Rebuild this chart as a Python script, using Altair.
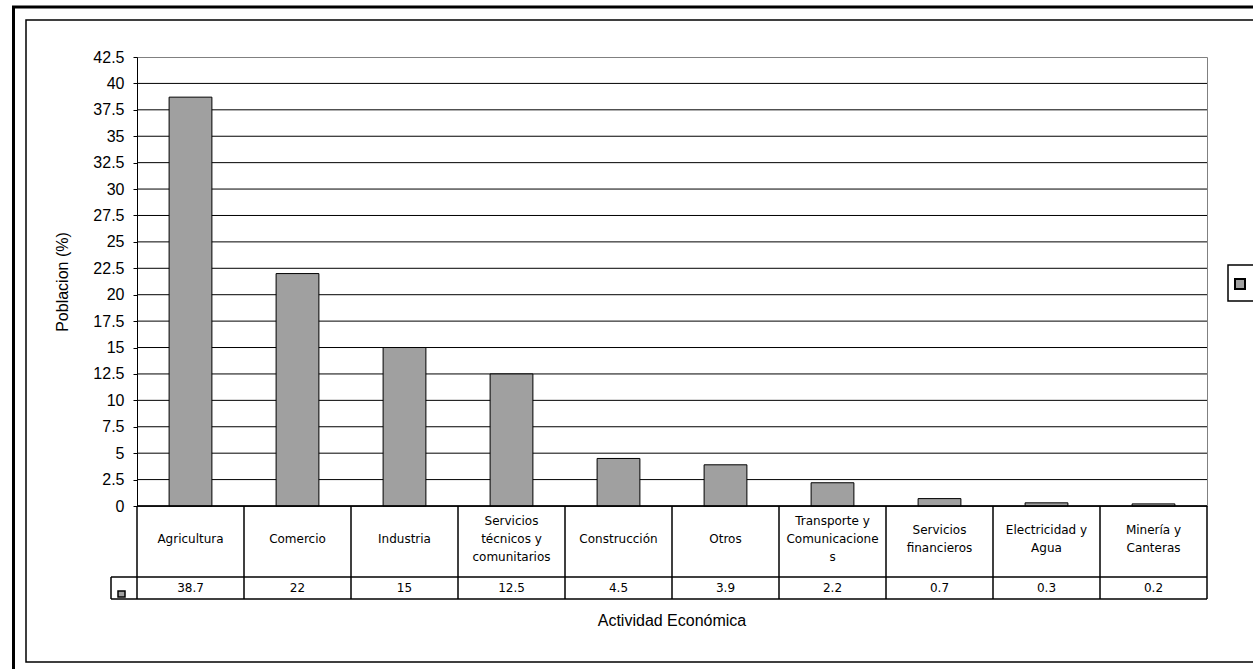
import altair as alt
import pandas as pd

# ---- data ----
categories = ["Agricultura", "Comercio", "Industria", "Servicios técnicos y comunitarios",
              "Construcción", "Otros", "Transporte y Comunicaciones", "Servicios financieros",
              "Electricidad y Agua", "Minería y Canteras"]
values = [38.7, 22, 15, 12.5, 4.5, 3.9, 2.2, 0.7, 0.3, 0.2]
table_labels = ["Agricultura", "Comercio", "Industria", "Servicios\ntécnicos y\ncomunitarios",
                "Construcción", "Otros", "Transporte y\nComunicacione\ns", "Servicios\nfinancieros",
                "Electricidad y\nAgua", "Minería y\nCanteras"]
value_labels = ["38.7", "22", "15", "12.5", "4.5", "3.9", "2.2", "0.7", "0.3", "0.2"]
y_ticks = [0, 2.5, 5, 7.5, 10, 12.5, 15, 17.5, 20, 22.5, 25, 27.5, 30, 32.5, 35, 37.5, 40, 42.5]

# ---- layout constants (pixels) ----
W, H = 1070, 449
ROW1, ROW2 = 520, 542
KEY_X = -26
LINE_H = 18
FONT = "Liberation Sans"
TFONT = "DejaVu Sans"
BAR = "#a0a0a0"

df = pd.DataFrame({"cat": categories, "val": values, "lab": table_labels, "vlab": value_labels})
# vertical position of each multi-line label so the block is centred in its cell
df["ly"] = [(H + ROW1) / 2 - 3 - (lab.count("\n")) * LINE_H / 2 for lab in table_labels]
ticks_df = pd.DataFrame({"t": [t for t in y_ticks if t < max(y_ticks)]})
one = pd.DataFrame({"a": [0]})

yscale = alt.Scale(domain=[0, 42.5], nice=False, zero=True)
xenc = alt.X("cat:N", sort=categories, scale=alt.Scale(paddingInner=0, paddingOuter=0), axis=None)
yaxis = alt.Axis(values=y_ticks, format=".1~f", grid=False, tickSize=4, tickColor="black",
                 domainColor="black", labelFont=FONT, labelFontSize=16, labelColor="black",
                 labelPadding=9, title="Poblacion (%)", titleFont=FONT, titleFontSize=16,
                 titleFontWeight="normal", titleColor="black", titleX=-75, titleY=H / 2,
                 titleBaseline="middle")

grid = alt.Chart(ticks_df).mark_rule(color="black", strokeWidth=1).encode(
    y=alt.Y("t:Q", scale=yscale, axis=yaxis),
    x=alt.value(0), x2=alt.value(W),
)

bars = alt.Chart(df).mark_bar(width=alt.RelativeBandSize(0.4), color=BAR, stroke="black", strokeWidth=1).encode(
    x=xenc,
    y=alt.Y("val:Q", scale=yscale, axis=yaxis),
)

# table cell borders
vlines = alt.Chart(df).mark_rule(color="black", strokeWidth=1.5).encode(
    x=alt.X("cat:N", sort=categories, bandPosition=0, scale=alt.Scale(paddingInner=0, paddingOuter=0), axis=None),
    y=alt.value(H), y2=alt.value(ROW2),
)
right_line = alt.Chart(one).mark_rule(color="black", strokeWidth=1.5).encode(
    x=alt.value(W), y=alt.value(H), y2=alt.value(ROW2))
key_left = alt.Chart(one).mark_rule(color="black", strokeWidth=1.5).encode(
    x=alt.value(KEY_X), y=alt.value(ROW1), y2=alt.value(ROW2))
row_sep = alt.Chart(one).mark_rule(color="black", strokeWidth=1.5).encode(
    y=alt.value(ROW1), x=alt.value(KEY_X), x2=alt.value(W))
row_bot = alt.Chart(one).mark_rule(color="black", strokeWidth=1.5).encode(
    y=alt.value(ROW2), x=alt.value(KEY_X), x2=alt.value(W))
zero_line = alt.Chart(one).mark_rule(color="black", strokeWidth=1.5).encode(
    y=alt.value(H), x=alt.value(0), x2=alt.value(W))
table_key = alt.Chart(one).mark_rect(fill=BAR, stroke="black", strokeWidth=1.5).encode(
    x=alt.value(-19), x2=alt.value(-12), y=alt.value(534), y2=alt.value(540))

cat_text = alt.Chart(df).mark_text(font=TFONT, fontSize=12, color="black", lineBreak="\n",
                                   lineHeight=LINE_H, baseline="middle").encode(
    x=xenc, y=alt.Y("ly:Q", scale=None, axis=None), text="lab:N")
val_text = alt.Chart(df).mark_text(font=TFONT, fontSize=12, color="black", baseline="middle").encode(
    x=xenc, y=alt.value((ROW1 + ROW2) / 2), text="vlab:N")

x_title = alt.Chart(one).mark_text(text="Actividad Económica", font=FONT, fontSize=16, color="black",
                                   baseline="middle").encode(x=alt.value(W / 2), y=alt.value(564))

# legend box on the right
legend_box = alt.Chart(one).mark_rect(fill="white", stroke="black", strokeWidth=1.5).encode(
    x=alt.value(1091), x2=alt.value(1140), y=alt.value(208), y2=alt.value(244))
legend_key = alt.Chart(one).mark_rect(fill=BAR, stroke="black", strokeWidth=2).encode(
    x=alt.value(1098), x2=alt.value(1108), y=alt.value(222), y2=alt.value(232))

# outer frames
frame_inner = alt.Chart(one).mark_rect(fill=None, stroke="black", strokeWidth=1.5).encode(
    x=alt.value(-111), x2=alt.value(1150), y=alt.value(-37), y2=alt.value(605))
frame_left = alt.Chart(one).mark_rule(color="black", strokeWidth=3).encode(
    x=alt.value(-123.5), y=alt.value(-50), y2=alt.value(620))
frame_top = alt.Chart(one).mark_rule(color="black", strokeWidth=3).encode(
    y=alt.value(-50), x=alt.value(-125), x2=alt.value(1150))

chart = alt.layer(
    frame_inner, frame_left, frame_top, grid, bars, zero_line, vlines, right_line, key_left,
    row_sep, row_bot, table_key, cat_text, val_text, x_title, legend_box, legend_key
).properties(
    width=W, height=H, autosize="none",
    padding={"left": 137, "top": 57, "right": 46, "bottom": 163},
).configure_view(stroke="#808080", strokeWidth=1)

chart.save("out.html", embed_options={"renderer": "svg", "actions": False})
